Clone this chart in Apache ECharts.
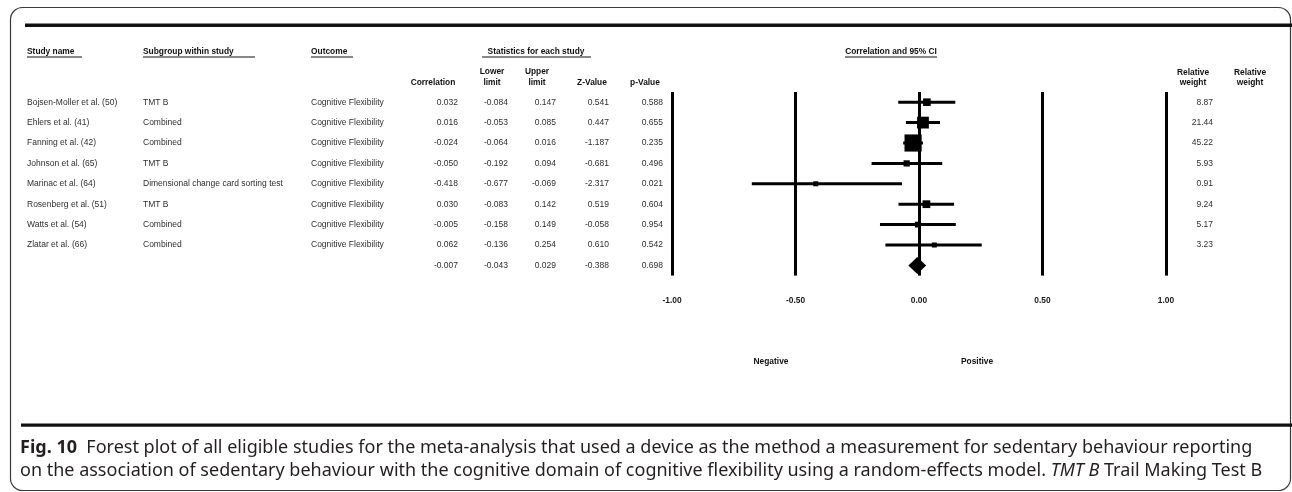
<!DOCTYPE html>
<html>
<head>
<meta charset="utf-8">
<script src="https://cdn.jsdelivr.net/npm/echarts@6/dist/echarts.min.js"></script>
<style>
html,body{margin:0;padding:0;background:#fff;}
#chart{width:1292px;height:492px;}
</style>
</head>
<body>
<div id="chart"></div>
<script>
// ---- data ----
var studies = ['Bojsen-Moller et al. (50)', 'Ehlers et al. (41)', 'Fanning et al. (42)', 'Johnson et al. (65)', 'Marinac et al. (64)', 'Rosenberg et al. (51)', 'Watts et al. (54)', 'Zlatar et al. (66)'];
var subgroups = ['TMT B', 'Combined', 'Combined', 'TMT B', 'Dimensional change card sorting test', 'TMT B', 'Combined', 'Combined'];
var outcomes = ['Cognitive Flexibility', 'Cognitive Flexibility', 'Cognitive Flexibility', 'Cognitive Flexibility', 'Cognitive Flexibility', 'Cognitive Flexibility', 'Cognitive Flexibility', 'Cognitive Flexibility'];
var correlation = [0.032, 0.016, -0.024, -0.050, -0.418, 0.030, -0.005, 0.062];
var lowerLimit = [-0.084, -0.053, -0.064, -0.192, -0.677, -0.083, -0.158, -0.136];
var upperLimit = [0.147, 0.085, 0.016, 0.094, -0.069, 0.142, 0.149, 0.254];
var zValue = [0.541, 0.447, -1.187, -0.681, -2.317, 0.519, -0.058, 0.610];
var pValue = [0.588, 0.655, 0.235, 0.496, 0.021, 0.604, 0.954, 0.542];
var relWeight = [8.87, 21.44, 45.22, 5.93, 0.91, 9.24, 5.17, 3.23];
var summaryCorrelation = -0.007, summaryLower = -0.043, summaryUpper = 0.029, summaryZ = -0.388, summaryP = 0.698;
var xTicks = [-1, -0.5, 0, 0.5, 1];

// ---- build ----
var FONT = 'Liberation Sans';
var FS = 8.5;
var HFS = 8.4;
var nRows = studies.length + 1;
var sumIdx = studies.length;
function fmt3(a, s) { return a.map(function (v) { return v.toFixed(3); }).concat([s.toFixed(3)]); }
var colStudy = studies.concat(['']);
var colSub = subgroups.concat(['']);
var colOut = outcomes.concat(['']);
var colCorr = fmt3(correlation, summaryCorrelation);
var colLow = fmt3(lowerLimit, summaryLower);
var colUp = fmt3(upperLimit, summaryUpper);
var colZ = fmt3(zValue, summaryZ);
var colP = fmt3(pValue, summaryP);
var colW = relWeight.map(function (v) { return v.toFixed(2); }).concat(['']);

var gridLeft = 672, gridRight = 1166, gridTop = 92, gridH = 183.6;

function colAxis(data, pos, offset, align) {
  return {
    type: 'category', data: data, inverse: true, gridIndex: 0,
    position: pos, offset: offset,
    axisLine: { show: false }, axisTick: { show: false }, splitLine: { show: false },
    axisLabel: { show: true, margin: 0, align: align, color: '#2f2f2f', fontFamily: FONT, fontSize: FS, interval: 0 }
  };
}
var yAxes = [
  colAxis(colStudy, 'left', gridLeft - 27, 'left'),
  colAxis(colSub, 'left', gridLeft - 143, 'left'),
  colAxis(colOut, 'left', gridLeft - 311, 'left'),
  colAxis(colCorr, 'left', gridLeft - 458, 'right'),
  colAxis(colLow, 'left', gridLeft - 508, 'right'),
  colAxis(colUp, 'left', gridLeft - 556, 'right'),
  colAxis(colZ, 'left', gridLeft - 609, 'right'),
  colAxis(colP, 'left', gridLeft - 663, 'right'),
  colAxis(colW, 'right', 1213 - gridRight, 'right')
];

var barData = lowerLimit.map(function (lo, i) { return [lo, upperLimit[i], i]; });
var pointData = correlation.map(function (c, i) { return [c, i, relWeight[i]]; });

function hdr(text, x, y, align) {
  return { type: 'text', silent: true, style: { text: text, x: x, y: y, textAlign: align || 'left', textVerticalAlign: 'middle', fontFamily: FONT, fontSize: HFS, fontWeight: 'bold', fill: '#111' } };
}
function uline(x1, x2, y) {
  return { type: 'line', silent: true, shape: { x1: x1, y1: y, x2: x2, y2: y }, style: { stroke: '#111', lineWidth: 1 } };
}

var capFont = 'Noto Sans';
var capFS = 18;

var option = {
  backgroundColor: '#fff',
  animation: false,
  grid: { left: gridLeft, top: gridTop, width: gridRight - gridLeft, height: gridH },
  xAxis: {
    type: 'value', min: -1, max: 1, interval: 0.5,
    axisLine: { show: false }, axisTick: { show: false },
    splitLine: { show: true, lineStyle: { color: '#000', width: 3 } },
    axisLabel: { margin: 21, color: '#1a1a1a', fontFamily: FONT, fontSize: HFS, fontWeight: 'bold', formatter: function (v) { return v.toFixed(2); } }
  },
  yAxis: yAxes,
  series: [
    {
      type: 'custom', name: 'ci', xAxisIndex: 0, yAxisIndex: 0,
      encode: { x: [0, 1], y: 2 },
      data: barData,
      renderItem: function (params, api) {
        var a = api.coord([api.value(0), api.value(2)]);
        var b = api.coord([api.value(1), api.value(2)]);
        return { type: 'line', shape: { x1: a[0], y1: a[1], x2: b[0], y2: b[1] }, style: { stroke: '#000', lineWidth: 3 } };
      },
      z: 2
    },
    {
      type: 'scatter', name: 'estimate', xAxisIndex: 0, yAxisIndex: 0,
      data: pointData, symbol: 'rect',
      symbolSize: function (v) { return Math.max(5, 2.55 * Math.sqrt(v[2])); },
      itemStyle: { color: '#000', opacity: 1 },
      z: 3
    },
    {
      type: 'custom', name: 'summary', xAxisIndex: 0, yAxisIndex: 0,
      encode: { x: [0, 1, 2], y: 3 },
      data: [[summaryLower, summaryCorrelation, summaryUpper, sumIdx]],
      renderItem: function (params, api) {
        var l = api.coord([api.value(0), api.value(3)]);
        var m = api.coord([api.value(1), api.value(3)]);
        var r = api.coord([api.value(2), api.value(3)]);
        var h = 8.5;
        return { type: 'polygon', shape: { points: [[l[0], l[1]], [m[0], m[1] - h], [r[0], r[1]], [m[0], m[1] + h]] }, style: { fill: '#000' } };
      },
      z: 3
    }
  ],
  graphic: [
    { type: 'rect', silent: true, shape: { x: 10.5, y: 7.5, width: 1280, height: 483, r: 12 }, style: { fill: 'none', stroke: '#3a3a3a', lineWidth: 1.2 } },
    { type: 'rect', silent: true, shape: { x: 25, y: 23.5, width: 1267, height: 3.5 }, style: { fill: '#111' } },
    { type: 'rect', silent: true, shape: { x: 21, y: 423.5, width: 1271, height: 3.2 }, style: { fill: '#111' } },
    hdr('Study name', 27, 52), uline(27, 82, 57),
    hdr('Subgroup within study', 143, 52), uline(143, 255, 57),
    hdr('Outcome', 311, 52), uline(311, 353, 57),
    hdr('Statistics for each study', 536, 52, 'center'), uline(482, 591, 57),
    hdr('Correlation and 95% CI', 891, 52, 'center'), uline(845, 937, 57),
    hdr('Correlation', 433, 83, 'center'),
    hdr('Lower', 492, 72, 'center'), hdr('limit', 492, 83, 'center'),
    hdr('Upper', 537, 72, 'center'), hdr('limit', 537, 83, 'center'),
    hdr('Z-Value', 592, 83, 'center'),
    hdr('p-Value', 645, 83, 'center'),
    hdr('Relative', 1193, 73, 'center'), hdr('weight', 1193, 83, 'center'),
    hdr('Relative', 1250, 73, 'center'), hdr('weight', 1250, 83, 'center'),
    hdr('Negative', 771, 362, 'center'),
    hdr('Positive', 977, 362, 'center'),
    {
      type: 'text', silent: true,
      style: {
        text: '{b|Fig. 10}  Forest plot of all eligible studies for the meta-analysis that used a device as the method a measurement for sedentary behaviour reporting',
        x: 20, y: 448, textVerticalAlign: 'middle', fontFamily: capFont, fontSize: capFS, fill: '#231f20',
        rich: { b: { fontFamily: capFont, fontSize: capFS, fontWeight: 'bold', fill: '#231f20' } }
      }
    },
    {
      type: 'text', silent: true,
      style: {
        text: 'on the association of sedentary behaviour with the cognitive domain of cognitive flexibility using a random-effects model. {i|TMT B} Trail Making Test B',
        x: 20, y: 471, textVerticalAlign: 'middle', fontFamily: capFont, fontSize: capFS, fill: '#231f20',
        rich: { i: { fontFamily: capFont, fontSize: capFS, fontStyle: 'italic', fill: '#231f20' } }
      }
    }
  ]
};
var chart = echarts.init(document.getElementById('chart'), null, { renderer: 'canvas' });
chart.setOption(option);
</script>
</body>
</html>
